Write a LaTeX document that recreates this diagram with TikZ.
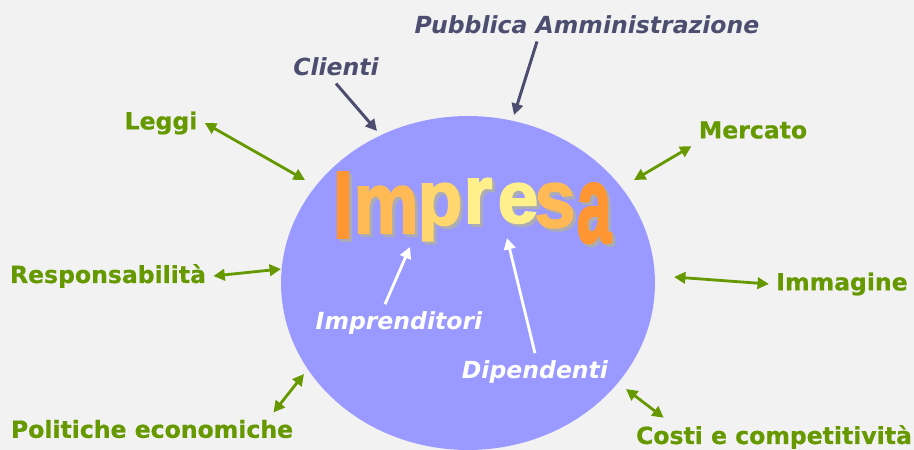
\documentclass[tikz,border=0pt]{standalone}
\usepackage{graphicx}
\usepackage{fontspec}
\setmainfont{DejaVu Sans}[BoldFeatures={FakeBold=0.6}]
\newfontfamily\wordartfont{Liberation Sans}[BoldFeatures={FakeBold=2.5}]
\usetikzlibrary{arrows.meta,calc,shapes.geometric}

\definecolor{paper}{RGB}{242,242,242}
\definecolor{blobblue}{RGB}{153,153,255}
\definecolor{leafgreen}{RGB}{102,153,0}
\definecolor{slate}{RGB}{77,77,112}
\definecolor{shadowgray}{RGB}{172,172,182}
\definecolor{waedge}{RGB}{255,150,50}
\definecolor{wamid}{RGB}{255,185,85}
\definecolor{walight}{RGB}{255,215,110}
\definecolor{wacore}{RGB}{255,240,140}

\begin{document}
\begin{tikzpicture}[
  x=0.02cm, y=-0.02cm,
  factor/.style={font=\fontsize{13.4}{16}\selectfont\bfseries, text=leafgreen, inner sep=4pt},
  actor/.style={font=\fontsize{13.4}{16}\selectfont\bfseries\itshape, text=slate, inner sep=4pt},
  member/.style={font=\fontsize{13.4}{16}\selectfont\bfseries\itshape, text=white, inner sep=4pt},
  wordart/.style={inner sep=0pt, anchor=north, font=\wordartfont\bfseries\fontsize{41.5}{45}\selectfont},
  both/.style={{Triangle[length=6.5pt,width=6.5pt]}-{Triangle[length=6.5pt,width=6.5pt]}, line width=1.6pt, leafgreen},
  push/.style={-{Triangle[length=6.5pt,width=6.5pt]}, line width=1.7pt, slate},
  lift/.style={-{Triangle[length=6.5pt,width=6.5pt]}, line width=1.6pt, white}
]

% background
\fill[paper] (0,0) rectangle (914,450);
\useasboundingbox (0,0) rectangle (914,450);

% the company
\node[ellipse, fill=blobblue, minimum width=7.48cm, minimum height=6.68cm, inner sep=0pt] (impresa) at (468,283) {};

% WordArt title
\foreach \ch/\cx/\ty/\xs/\ys/\col [count=\i] in {I/343/172/1/1.3/waedge, m/386/186/1/1.19/wamid, p/440/183/1/1.05/walight, r/478/178/1/1.13/wacore, e/518/183/1/1.0/wacore, s/555/183/1/1.11/wamid, a/594/183/0.85/1.5/waedge}{
  \node[wordart, text=shadowgray] (shade\i) at (\cx+3,\ty+3) {\scalebox{\xs}[\ys]{\ch}};
  \node[wordart, text=\col] (letter\i) at (\cx,\ty) {\scalebox{\xs}[\ys]{\ch}};
}

% labels
\node[actor] (pa) at (587,25) {Pubblica Amministrazione};
\node[actor] (clienti) at (336,67) {Clienti};
\node[factor] (leggi) at (161,123) {Leggi};
\node[factor] (mercato) at (753,130) {Mercato};
\node[factor] (resp) at (108,276) {Responsabilità};
\node[factor] (immagine) at (842,284) {Immagine};
\node[factor] (politiche) at (152,429) {Politiche economiche};
\node[factor] (costi) at (774,437) {Costi e competitività};
\node[member] (imprenditori) at (399,323) {Imprenditori};
\node[member] (dipendenti) at (535,372) {Dipendenti};

% arrow ends at the company
\coordinate (clienti-in) at (377,131);
\coordinate (pa-in) at (514,115);
\coordinate (leggi-in) at (305,180);
\coordinate (mercato-in) at (634,180);
\coordinate (resp-in) at (281,269);
\coordinate (imm-in) at (674,277);
\coordinate (pol-in) at (304,374);
\coordinate (costi-in) at (626,389);
\coordinate (impr-in) at (410,247);
\coordinate (dip-in) at (507,238);

% arrows
\draw[push] (clienti.south) -- (clienti-in);
\draw[push] ($(pa.south)+(-50,0)$) -- (pa-in);
\draw[both] (leggi.east) -- (leggi-in);
\draw[both] (mercato.south west) -- (mercato-in);
\draw[both] (resp.east) -- (resp-in);
\draw[both] (immagine.west) -- (imm-in);
\draw[both] ($(politiche.north east)+(-27,0)$) -- (pol-in);
\draw[both] ($(costi.north west)+(35,0)$) -- (costi-in);
\draw[lift] ($(imprenditori.north)+(-14,0)$) -- (impr-in);
\draw[lift] (dipendenti.north) -- (dip-in);

\end{tikzpicture}
\end{document}
